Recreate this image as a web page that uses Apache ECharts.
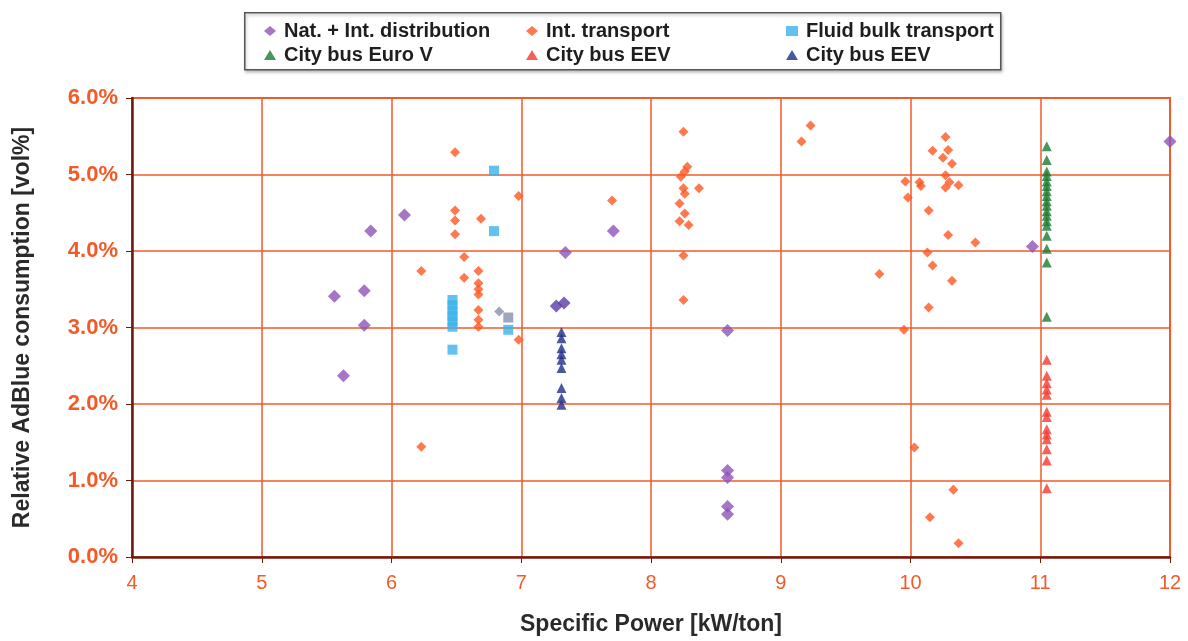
<!DOCTYPE html>
<html>
<head>
<meta charset="utf-8">
<title>Relative AdBlue consumption vs specific power</title>
<script src="https://cdn.jsdelivr.net/npm/echarts@6/dist/echarts.min.js"></script>
<style>
  html, body { margin: 0; padding: 0; background: #ffffff; }
  #chart { width: 1188px; height: 641px; }
</style>
</head>
<body>
<div id="chart"></div>
<script>
// Axis ticks
const xTicks = [4, 5, 6, 7, 8, 9, 10, 11, 12];
const yTicks = [0, 1, 2, 3, 4, 5, 6];

// [specific power kW/ton, relative AdBlue consumption vol%]
const natIntDistribution = [
  [5.56, 3.41], [5.79, 3.48], [5.84, 4.26], [6.10, 4.47], [5.79, 3.03], [5.63, 2.37],
  [7.34, 3.98], [7.71, 4.26], [8.59, 2.96], [8.59, 1.13], [8.59, 1.04], [8.59, 0.66],
  [8.59, 0.56], [10.94, 4.06], [12.0, 5.43]
];

const intTransport = [
  [6.49, 5.29], [6.98, 4.72], [6.49, 4.53], [6.49, 4.40], [6.69, 4.42], [6.49, 4.22],
  [6.56, 3.92], [6.23, 3.74], [6.56, 3.65], [6.67, 3.74], [6.67, 3.58], [6.67, 3.50],
  [6.67, 3.43], [6.67, 3.23], [6.67, 3.10], [6.67, 3.01], [6.98, 2.84], [6.23, 1.44],
  [7.70, 4.66],
  [8.25, 5.56], [8.28, 5.10], [8.26, 5.04], [8.23, 4.97], [8.25, 4.82], [8.26, 4.75],
  [8.37, 4.82], [8.22, 4.62], [8.26, 4.49], [8.22, 4.39], [8.29, 4.34], [8.25, 3.94],
  [8.25, 3.36],
  [9.23, 5.64], [9.16, 5.43], [10.27, 5.49], [10.17, 5.31], [10.29, 5.32], [10.25, 5.22],
  [10.32, 5.14], [10.27, 4.99], [9.96, 4.91], [10.07, 4.90], [10.08, 4.85], [10.30, 4.90],
  [10.27, 4.83], [10.37, 4.86], [9.98, 4.70], [10.14, 4.53], [10.29, 4.21], [10.50, 4.11],
  [10.13, 3.98], [10.17, 3.81], [9.76, 3.70], [10.32, 3.61], [10.14, 3.26], [9.95, 2.97],
  [10.03, 1.43], [10.33, 0.88], [10.15, 0.52], [10.37, 0.18]
];

const fluidBulkTransport = [
  [6.79, 5.05], [6.79, 4.26], [6.47, 3.36], [6.47, 3.29], [6.47, 3.22], [6.47, 3.15],
  [6.47, 3.08], [6.47, 3.01], [6.47, 2.71], [6.90, 2.97]
];

const cityBusEuroV = [
  [11.05, 5.37], [11.05, 5.19], [11.05, 5.04], [11.05, 4.98], [11.05, 4.91], [11.05, 4.85],
  [11.05, 4.78], [11.05, 4.72], [11.05, 4.65], [11.05, 4.59], [11.05, 4.52], [11.05, 4.46],
  [11.05, 4.39], [11.05, 4.33], [11.05, 4.20], [11.05, 4.03], [11.05, 3.85], [11.05, 3.14]
];

const cityBusEEVRed = [
  [11.05, 2.58], [11.05, 2.37], [11.05, 2.27], [11.05, 2.19], [11.05, 2.12], [11.05, 1.90],
  [11.05, 1.83], [11.05, 1.67], [11.05, 1.60], [11.05, 1.54], [11.05, 1.41], [11.05, 1.26],
  [11.05, 0.90]
];

const cityBusEEVBlue = [
  [7.31, 2.94], [7.31, 2.86], [7.31, 2.73], [7.31, 2.65], [7.31, 2.58], [7.31, 2.47],
  [7.31, 2.21], [7.31, 2.08], [7.31, 1.99]
];

// Unlisted measurements (not part of the legend)
const greyPoints = [[6.83, 3.21], [6.90, 3.13]];
const violetPoints = [[7.27, 3.28], [7.33, 3.32]];

const orange = '#f25a28';
const axisDark = '#6e1c12';
const fontFamily = 'Liberation Sans, Arial, sans-serif';
const legendFont = { fontFamily, fontSize: 20, fontWeight: 'bold', color: '#1e1e1e', padding: [0, 0, 0, 3] };

const legendColumn = (left, names) => ({
  orient: 'vertical', left, top: 16, itemGap: 4, itemWidth: 12, itemHeight: 10,
  textStyle: legendFont, data: names, z: 5
});

const chart = echarts.init(document.getElementById('chart'), null, { renderer: 'canvas' });

const option = {
  backgroundColor: '#ffffff',
  animation: false,
  grid: { left: 132, right: 18, top: 98, bottom: 81, show: true, borderColor: orange, borderWidth: 2, backgroundColor: '#ffffff' },
  graphic: [{
    type: 'rect',
    left: 244, top: 12,
    shape: { width: 756, height: 57 },
    style: { fill: '#ffffff', stroke: '#555555', lineWidth: 1.5, shadowColor: 'rgba(0,0,0,0.25)', shadowBlur: 3, shadowOffsetX: 1, shadowOffsetY: 2 },
    z: 0
  }],
  legend: [
    legendColumn(259, [
      { name: 'Nat. + Int. distribution', icon: 'diamond' },
      { name: 'City bus Euro V', icon: 'triangle' }
    ]),
    legendColumn(521, [
      { name: 'Int. transport', icon: 'diamond' },
      { name: 'City bus EEV', icon: 'triangle' }
    ]),
    legendColumn(781, [
      { name: 'Fluid bulk transport', icon: 'rect' },
      { name: 'City bus EEV ', icon: 'triangle' }
    ])
  ],
  xAxis: {
    type: 'value', min: xTicks[0], max: xTicks[xTicks.length - 1], interval: 1,
    name: 'Specific Power [kW/ton]', nameLocation: 'middle', nameGap: 56,
    nameTextStyle: { fontFamily, fontSize: 23, fontWeight: 'bold', color: '#2a2a2a' },
    axisLine: { show: true, onZero: false, lineStyle: { color: axisDark, width: 2.5 } },
    axisTick: { show: true, length: 6, lineStyle: { color: axisDark } },
    axisLabel: { margin: 16, fontFamily, fontSize: 20, color: orange },
    splitLine: { show: true, lineStyle: { color: orange, width: 1.5 } }
  },
  yAxis: {
    type: 'value', min: yTicks[0], max: yTicks[yTicks.length - 1], interval: 1,
    name: 'Relative AdBlue consumption [vol%]', nameLocation: 'middle', nameGap: 98,
    nameTextStyle: { fontFamily, fontSize: 23, fontWeight: 'bold', color: '#2a2a2a' },
    axisLine: { show: true, onZero: false, lineStyle: { color: axisDark, width: 2.5 } },
    axisTick: { show: true, length: 6, lineStyle: { color: axisDark } },
    axisLabel: { margin: 14, fontFamily, fontSize: 22, fontWeight: 'bold', color: orange,
      formatter: v => v.toFixed(1) + '%' },
    splitLine: { show: true, lineStyle: { color: orange, width: 1.5 } }
  },
  series: [
    { name: 'Nat. + Int. distribution', type: 'scatter', data: natIntDistribution, symbol: 'diamond', symbolSize: 13,
      itemStyle: { color: '#8e52b8' }, z: 3 },
    { name: 'Int. transport', type: 'scatter', data: intTransport, symbol: 'diamond', symbolSize: 10,
      itemStyle: { color: '#ff5622' }, z: 3 },
    { name: 'Fluid bulk transport', type: 'scatter', data: fluidBulkTransport, symbol: 'rect', symbolSize: 10,
      itemStyle: { color: '#3bb2ea' }, z: 3 },
    { name: 'City bus Euro V', type: 'scatter', data: cityBusEuroV, symbol: 'triangle', symbolSize: 10,
      itemStyle: { color: '#1c7a32' }, z: 3 },
    { name: 'City bus EEV', type: 'scatter', data: cityBusEEVRed, symbol: 'triangle', symbolSize: 10,
      itemStyle: { color: '#f33a30' }, z: 3 },
    { name: 'City bus EEV ', type: 'scatter', data: cityBusEEVBlue, symbol: 'triangle', symbolSize: 10,
      itemStyle: { color: '#1f2d8c' }, z: 3 },
    { name: 'grey', type: 'scatter', data: greyPoints, symbol: (v, p) => p.dataIndex === 0 ? 'diamond' : 'rect', symbolSize: 10,
      itemStyle: { color: '#8a90ae' }, z: 3 },
    { name: 'violet', type: 'scatter', data: violetPoints, symbol: 'diamond', symbolSize: 13,
      itemStyle: { color: '#5b3ca4' }, z: 3 }
  ]
};

chart.setOption(option);
</script>
</body>
</html>
